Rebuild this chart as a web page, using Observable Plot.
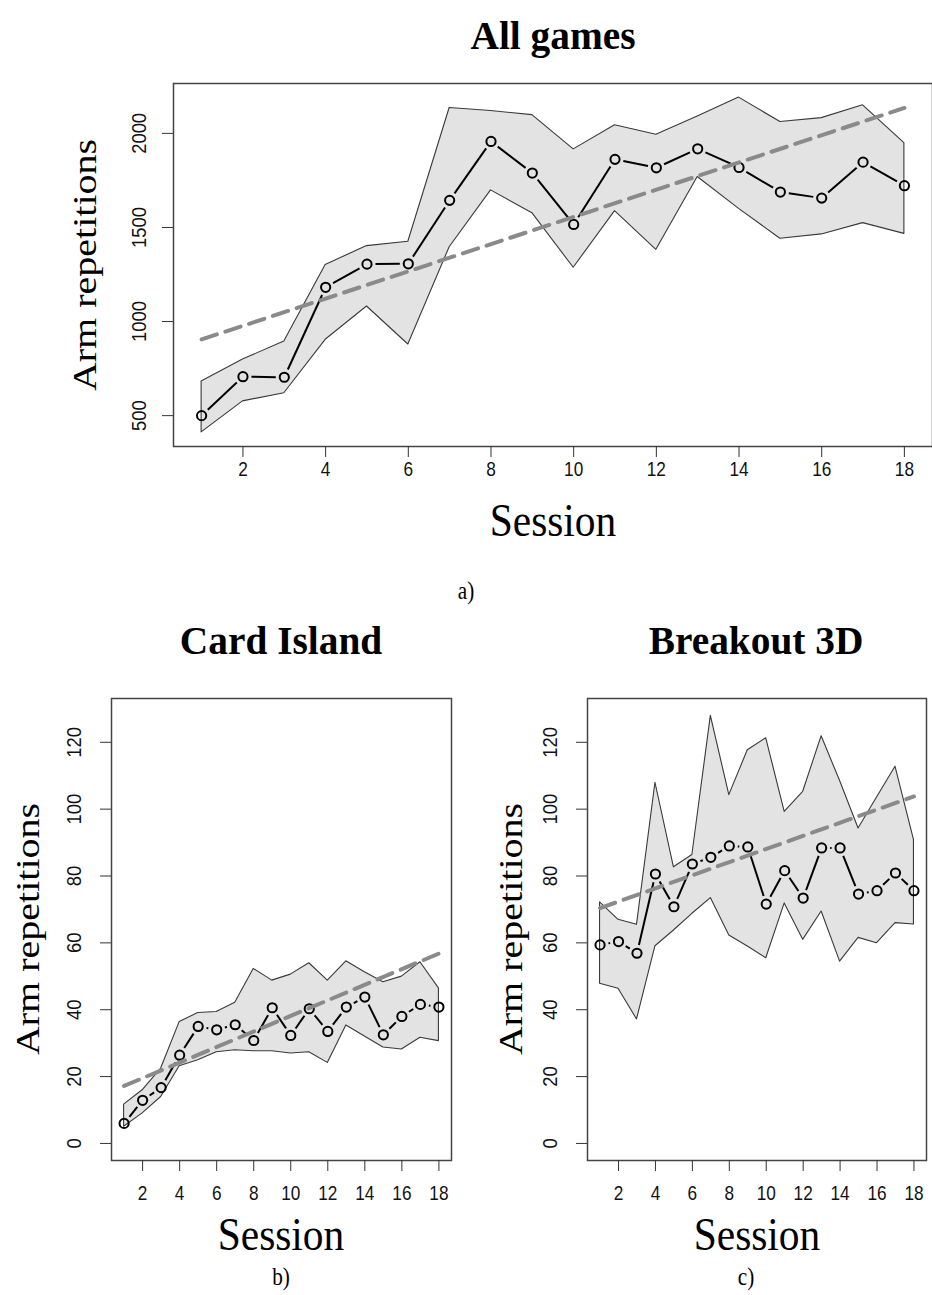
<!DOCTYPE html>
<html><head><meta charset="utf-8">
<script src="https://cdn.jsdelivr.net/npm/d3@7"></script>
<script src="https://cdn.jsdelivr.net/npm/@observablehq/plot@0.6"></script>
<style>
body{margin:0;background:#fff;}
#fig{position:relative;width:932px;height:1295px;overflow:hidden;background:#fff;}
.t{position:absolute;transform:translate(-50%,-50%);white-space:nowrap;font-family:"Liberation Serif","Times New Roman",serif;line-height:1;color:#000;}
.title{font-weight:bold;font-size:41px;transform:translate(-50%,-50%) scaleX(0.96);}
.lab{font-size:46px;transform:translate(-50%,-50%) scaleX(0.9);}
.cap{font-size:25px;transform:translate(-50%,-50%) scaleX(0.85);}
.ylab{font-size:40px;transform:translate(-50%,-50%) rotate(-90deg) scaleY(0.86);}
.p{position:absolute;}
</style></head><body><div id="fig"></div>
<script>
const sessions = [1,2,3,4,5,6,7,8,9,10,11,12,13,14,15,16,17,18];
const xTicks = [2,4,6,8,10,12,14,16,18];
const trendSessions = [1, 18];

const allMean = [500, 707, 704, 1182, 1305, 1307, 1644, 1957, 1789, 1516, 1862, 1817, 1918, 1819, 1688, 1656, 1847, 1722];
const allHigh = [681, 798, 894, 1301, 1401, 1424, 2135, 2119, 2097, 1915, 2043, 1993, 2090, 2190, 2060, 2081, 2149, 1948];
const allLow  = [411, 576, 619, 903, 1080, 878, 1395, 1697, 1576, 1286, 1587, 1381, 1768, 1599, 1440, 1463, 1523, 1466];
const allTrend = [905, 2135];
const allTicks = [500, 1000, 1500, 2000];

const cardMean = [6.0, 12.9, 16.7, 26.4, 35.0, 34.0, 35.5, 30.8, 40.6, 32.3, 40.3, 33.5, 40.8, 43.8, 32.5, 38.0, 41.6, 40.8];
const cardHigh = [11.6, 15.9, 22.4, 36.3, 39.0, 39.3, 42.1, 52.2, 48.7, 50.5, 53.9, 48.7, 54.5, 51.2, 48.2, 49.9, 54.2, 46.4];
const cardLow  = [5.0, 9.0, 13.9, 23.1, 24.9, 27.3, 27.9, 27.6, 27.6, 26.9, 27.3, 24.1, 35.3, 32.0, 28.7, 28.1, 31.6, 30.6];
const cardTrend = [17.2, 56.8];

const breakMean = [59.4, 60.4, 56.9, 80.6, 70.8, 83.6, 85.6, 89.0, 88.7, 71.6, 81.6, 73.4, 88.4, 88.4, 74.6, 75.6, 80.9, 75.6];
const breakHigh = [72.1, 66.9, 65.4, 107.9, 82.6, 86.3, 127.9, 104.2, 117.6, 121.2, 99.2, 105.2, 121.8, 108.4, 94.2, 103.5, 112.7, 90.8];
const breakLow  = [47.8, 46.3, 37.1, 59.0, 63.7, 68.7, 73.4, 62.2, 58.9, 55.4, 71.8, 60.9, 69.4, 54.4, 61.5, 59.9, 65.9, 65.5];
const breakTrend = [70.4, 103.8];
const smallTicks = [0, 20, 40, 60, 80, 100, 120];

const fig = document.getElementById("fig");

function addText(txt, cls, x, y) {
  const d = document.createElement("div");
  d.className = "t " + cls;
  d.textContent = txt;
  d.style.left = x + "px";
  d.style.top = y + "px";
  fig.appendChild(d);
}

function squeeze(svg, selector, f) {
  svg.querySelectorAll(selector).forEach(t => {
    const w = t.getComputedTextLength();
    if (w > 0) {
      t.setAttribute("textLength", (w * f).toFixed(2));
      t.setAttribute("lengthAdjust", "spacingAndGlyphs");
    }
  });
}

function chart({mean, low, high, trend, yDomain, yTicks, width, height, ml, mr, mt, mb, left, top, yPad, xPad}) {
  const rows = sessions.map((s, i) => ({s, mean: mean[i], low: low[i], high: high[i]}));
  const segs = sessions.slice(1).map((s, i) => ({s1: sessions[i], s2: s, m1: mean[i], m2: mean[i + 1]}));
  const tr = trendSessions.map((s, i) => ({s, v: trend[i]}));
  const svg = Plot.plot({
    width, height,
    marginLeft: ml, marginRight: mr, marginTop: mt, marginBottom: mb,
    x: {domain: [0.32, 18.68]},
    y: {domain: yDomain},
    style: {fontFamily: "'Liberation Sans', Arial, sans-serif", fontSize: "19px", background: "white", color: "#111"},
    marks: [
      Plot.areaY(rows, {x: "s", y1: "low", y2: "high", fill: "#e3e3e3", stroke: "#3a3a3a", strokeWidth: 1.1}),
      Plot.arrow(segs, {x1: "s1", y1: "m1", x2: "s2", y2: "m2", headLength: 0, inset: 8.5, stroke: "#000", strokeWidth: 2, strokeLinecap: "butt"}),
      Plot.dot(rows, {x: "s", y: "mean", r: 4.6, stroke: "#000", strokeWidth: 2, fill: "none"}),
      Plot.line(tr, {x: "s", y: "v", stroke: "#8a8a8a", strokeWidth: 4, strokeDasharray: "16,9"}),
      Plot.frame({stroke: "#444", strokeWidth: 1.5}),
      Plot.axisX({ticks: xTicks, tickSize: 11, tickPadding: xPad, fontSize: 21, label: null, stroke: "#333", fill: "#111", tickFormat: d => String(d)}),
      Plot.axisY({ticks: yTicks, tickSize: 11, tickPadding: yPad, tickRotate: -90, fontSize: 20, label: null, stroke: "#333", fill: "#111", tickFormat: d => String(d)})
    ]
  });
  svg.classList.add("p");
  svg.style.left = left + "px";
  svg.style.top = top + "px";
  fig.appendChild(svg);
  squeeze(svg, 'g[aria-label="x-axis tick label"] text', 0.82);
  squeeze(svg, 'g[aria-label="y-axis tick label"] text', 0.92);
}

// a) All games
chart({mean: allMean, low: allLow, high: allHigh, trend: allTrend, yDomain: [336, 2265], yTicks: allTicks,
  width: 932, height: 480, ml: 173, mr: 0, mt: 23, mb: 94, left: 0, top: 60, yPad: 17, xPad: 4});
// b) Card Island
chart({mean: cardMean, low: cardLow, high: cardHigh, trend: cardTrend, yDomain: [-5.1, 133.1], yTicks: smallTicks,
  width: 470, height: 540, ml: 111, mr: 19, mt: 18, mb: 60, left: 0, top: 680, yPad: 20, xPad: 14});
// c) Breakout 3D
chart({mean: breakMean, low: breakLow, high: breakHigh, trend: breakTrend, yDomain: [-5.1, 133.1], yTicks: smallTicks,
  width: 462, height: 540, ml: 117, mr: 6, mt: 18, mb: 60, left: 470, top: 680, yPad: 20, xPad: 14});

addText("All games", "title", 553, 35);
addText("Arm repetitions", "ylab", 85, 265);
addText("Session", "lab", 553, 521);
addText("a)", "cap", 466, 590);

addText("Card Island", "title", 281, 640);
addText("Arm repetitions", "ylab", 28, 929);
addText("Session", "lab", 281, 1235);
addText("b)", "cap", 281, 1276);

addText("Breakout 3D", "title", 756, 640);
addText("Arm repetitions", "ylab", 511, 929);
addText("Session", "lab", 757, 1235);
addText("c)", "cap", 746, 1276);
</script>
</body></html>
